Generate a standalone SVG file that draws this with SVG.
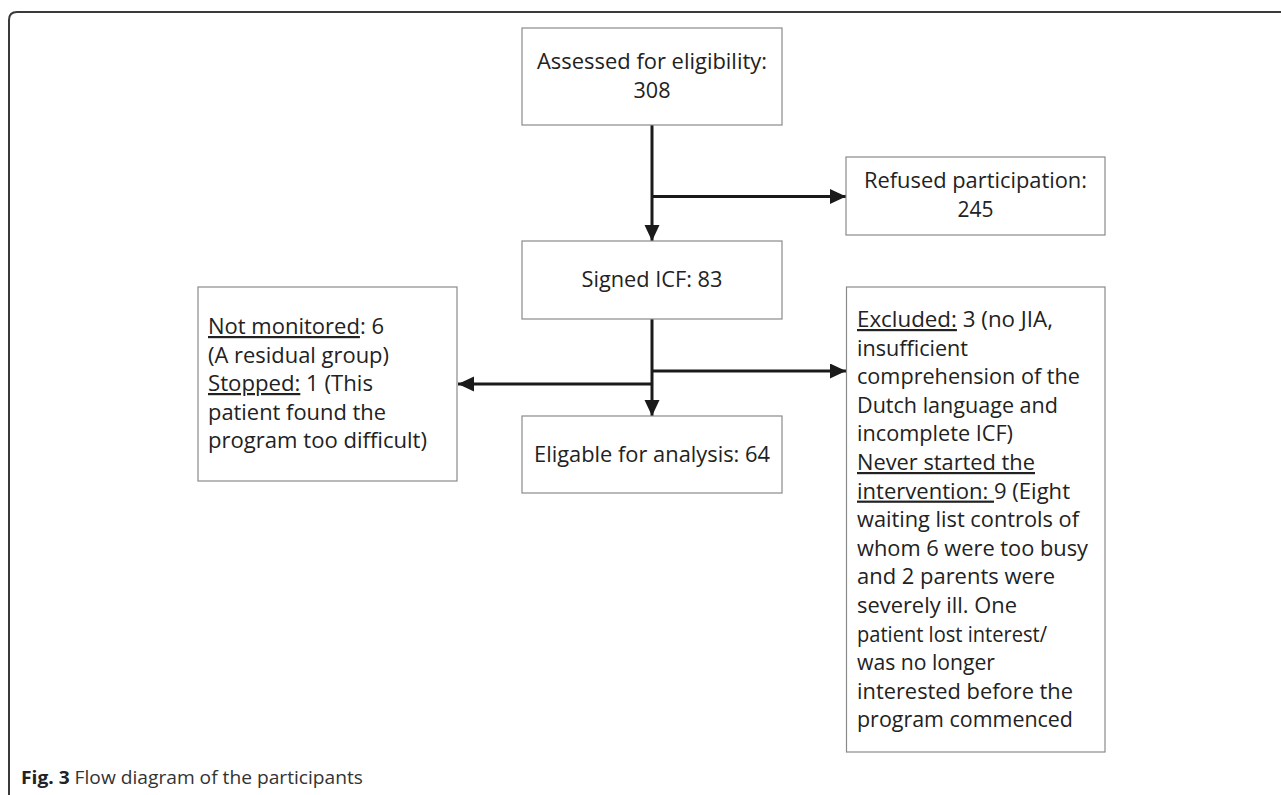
<svg xmlns="http://www.w3.org/2000/svg" width="1281" height="795" viewBox="0 0 1281 795">
<defs>
<style>
.box{fill:#fff;stroke:#8a8a8a;stroke-width:1.2}
.t{font-family:"Open Sans","Noto Sans","Liberation Sans",sans-serif;font-size:22px;fill:#222}
.c{text-anchor:middle}
.conn{fill:none;stroke:#1a1a1a;stroke-width:3}
.u{text-decoration:underline}
.cap{font-family:"Open Sans","Noto Sans","Liberation Sans",sans-serif;font-size:18px;fill:#333}
</style>
<marker id="ah" markerUnits="userSpaceOnUse" markerWidth="18" markerHeight="16" refX="16" refY="7.5" orient="auto">
<path d="M0,0 L16,7.5 L0,15 Z" fill="#1a1a1a"/>
</marker>
</defs>
<rect width="1281" height="795" fill="#fff"/>
<path d="M9,795 L9,20 Q9,12 17,12 L1281,12" fill="none" stroke="#3a3a3a" stroke-width="2"/>

<g id="connectors">
<line class="conn" x1="652" y1="125" x2="652" y2="241" marker-end="url(#ah)"/>
<line class="conn" x1="652" y1="196.5" x2="846" y2="196.5" marker-end="url(#ah)"/>
<line class="conn" x1="652" y1="319" x2="652" y2="416" marker-end="url(#ah)"/>
<line class="conn" x1="652" y1="371" x2="846" y2="371" marker-end="url(#ah)"/>
<line class="conn" x1="652" y1="384" x2="458" y2="384" marker-end="url(#ah)"/>
</g>

<g id="assessed">
<rect class="box" x="522" y="28" width="260" height="97"/>
<text class="t c" x="652" y="69" textLength="230" lengthAdjust="spacingAndGlyphs">Assessed for eligibility:</text>
<text class="t c" x="652" y="98" textLength="37" lengthAdjust="spacingAndGlyphs">308</text>
</g>

<g id="refused">
<rect class="box" x="846" y="157" width="259" height="78"/>
<text class="t c" x="975.5" y="188" textLength="223" lengthAdjust="spacingAndGlyphs">Refused participation:</text>
<text class="t c" x="975.5" y="217" textLength="36" lengthAdjust="spacingAndGlyphs">245</text>
</g>

<g id="signed">
<rect class="box" x="522" y="241" width="260" height="78"/>
<text class="t c" x="652" y="287" textLength="141" lengthAdjust="spacingAndGlyphs">Signed ICF: 83</text>
</g>

<g id="eligable">
<rect class="box" x="522" y="416" width="260" height="77"/>
<text class="t c" x="652" y="462" textLength="236" lengthAdjust="spacingAndGlyphs">Eligable for analysis: 64</text>
</g>

<g id="notmonitored">
<rect class="box" x="198" y="287" width="259" height="194"/>
<text class="t" x="208" y="334" textLength="176" lengthAdjust="spacingAndGlyphs"><tspan class="u">Not monitored</tspan>: 6</text>
<text class="t" x="208" y="362.5" textLength="181" lengthAdjust="spacingAndGlyphs">(A residual group)</text>
<text class="t" x="208" y="391" textLength="165" lengthAdjust="spacingAndGlyphs"><tspan class="u">Stopped:</tspan> 1 (This</text>
<text class="t" x="208" y="419.5" textLength="178" lengthAdjust="spacingAndGlyphs">patient found the</text>
<text class="t" x="208" y="448" textLength="219" lengthAdjust="spacingAndGlyphs">program too difficult)</text>
</g>

<g id="excluded">
<rect class="box" x="846.5" y="287" width="258.5" height="465"/>
<text class="t" x="857" y="327" textLength="196" lengthAdjust="spacingAndGlyphs"><tspan class="u">Excluded:</tspan> 3 (no JIA,</text>
<text class="t" x="857" y="355.6" textLength="111" lengthAdjust="spacingAndGlyphs">insufficient</text>
<text class="t" x="857" y="384.2" textLength="223" lengthAdjust="spacingAndGlyphs">comprehension of the</text>
<text class="t" x="857" y="412.8" textLength="201" lengthAdjust="spacingAndGlyphs">Dutch language and</text>
<text class="t" x="857" y="441.4" textLength="156" lengthAdjust="spacingAndGlyphs">incomplete ICF)</text>
<text class="t" x="857" y="470" textLength="178" lengthAdjust="spacingAndGlyphs"><tspan class="u">Never started the</tspan></text>
<text class="t" x="857" y="498.6" textLength="213" lengthAdjust="spacingAndGlyphs"><tspan class="u">intervention: </tspan>9 (Eight</text>
<text class="t" x="857" y="527.2" textLength="222" lengthAdjust="spacingAndGlyphs">waiting list controls of</text>
<text class="t" x="857" y="555.8" textLength="231" lengthAdjust="spacingAndGlyphs">whom 6 were too busy</text>
<text class="t" x="857" y="584.4" textLength="198" lengthAdjust="spacingAndGlyphs">and 2 parents were</text>
<text class="t" x="857" y="613" textLength="160" lengthAdjust="spacingAndGlyphs">severely ill. One</text>
<text class="t" x="857" y="641.6" textLength="190" lengthAdjust="spacingAndGlyphs">patient lost interest/</text>
<text class="t" x="857" y="670.2" textLength="138" lengthAdjust="spacingAndGlyphs">was no longer</text>
<text class="t" x="857" y="698.8" textLength="216" lengthAdjust="spacingAndGlyphs">interested before the</text>
<text class="t" x="857" y="727.4" textLength="216" lengthAdjust="spacingAndGlyphs">program commenced</text>
</g>

<text class="cap" x="21" y="784" textLength="342" lengthAdjust="spacingAndGlyphs"><tspan font-weight="bold" fill="#222">Fig. 3</tspan> Flow diagram of the participants</text>
</svg>
